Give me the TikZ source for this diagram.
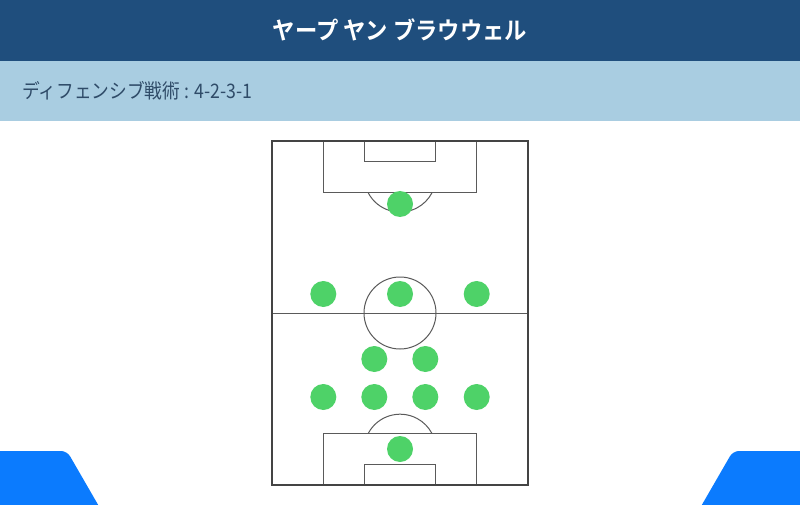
\documentclass[tikz,border=0pt]{standalone}
\usepackage{fontspec}
\newfontfamily\jpfont{Noto Sans CJK JP}
\newfontfamily\jpbold{Noto Sans CJK JP Bold}
\definecolor{headblue}{HTML}{1F4E7D}
\definecolor{bandblue}{HTML}{A9CDE1}
\definecolor{subtext}{HTML}{2F4B68}
\definecolor{cornerblue}{HTML}{0B7BFE}
\definecolor{player}{HTML}{4ED268}
\definecolor{outline}{HTML}{444444}
\definecolor{markline}{HTML}{5A5A5A}
\begin{document}
\begin{tikzpicture}[x=1pt, y=-1pt,
    man/.style={circle, fill=player, minimum size=26pt, inner sep=0pt},
    pitchline/.style={color=markline, line width=1pt}]
    \useasboundingbox (0,0) rectangle (800,505);
    \clip (0,0) rectangle (800,505);
    \fill[white] (0,0) rectangle (800,505);
    \fill[headblue] (0,0) rectangle (800,61);
    \fill[bandblue] (0,61) rectangle (800,121);
    \node[text=white, font=\jpbold\fontsize{24}{24}\selectfont] (title) at (400,30) {\scalebox{0.93}[1]{ヤープ ヤン ブラウウェル}};
    \node[anchor=west, inner sep=0pt, text=subtext, font=\jpfont\fontsize{20}{20}\selectfont] (tactic) at (22,91) {\scalebox{0.885}[1]{ディフェンシブ戦術 : 4-2-3-1}};
    % corners
    \fill[cornerblue, rounded corners=6] (-10,451) -- (67,451) -- (104,515) -- (-10,515) -- cycle;
    \fill[cornerblue, rounded corners=6] (810,451) -- (733,451) -- (696,515) -- (810,515) -- cycle;
    % pitch
    \draw[pitchline] (272,313) -- (528,313);
    \draw[pitchline] (400,313) circle (36);
    \draw[pitchline] (323.3,141) rectangle (476.7,193);
    \draw[pitchline] (364.3,141) rectangle (435.7,161.7);
    \draw[pitchline] (368.3,193) arc[start angle=152, end angle=28, radius=36];
    \draw[pitchline] (323.3,485) rectangle (476.7,433.3);
    \draw[pitchline] (364.3,485) rectangle (435.7,464.3);
    \draw[pitchline] (368.3,433.3) arc[start angle=-152, end angle=-28, radius=36];
    \draw[color=outline, line width=1.5pt] (272,141) rectangle (528,485);
    % players
    \node[man] (st) at (400,204) {};
    \node[man] (lam) at (323.3,294) {};
    \node[man] (cam) at (400,294) {};
    \node[man] (ram) at (476.7,294) {};
    \node[man] (ldm) at (374.3,359) {};
    \node[man] (rdm) at (425.3,359) {};
    \node[man] (lb) at (323.3,397) {};
    \node[man] (lcb) at (374.3,397) {};
    \node[man] (rcb) at (425.3,397) {};
    \node[man] (rb) at (476.7,397) {};
    \node[man] (gk) at (400,449) {};
\end{tikzpicture}
\end{document}
